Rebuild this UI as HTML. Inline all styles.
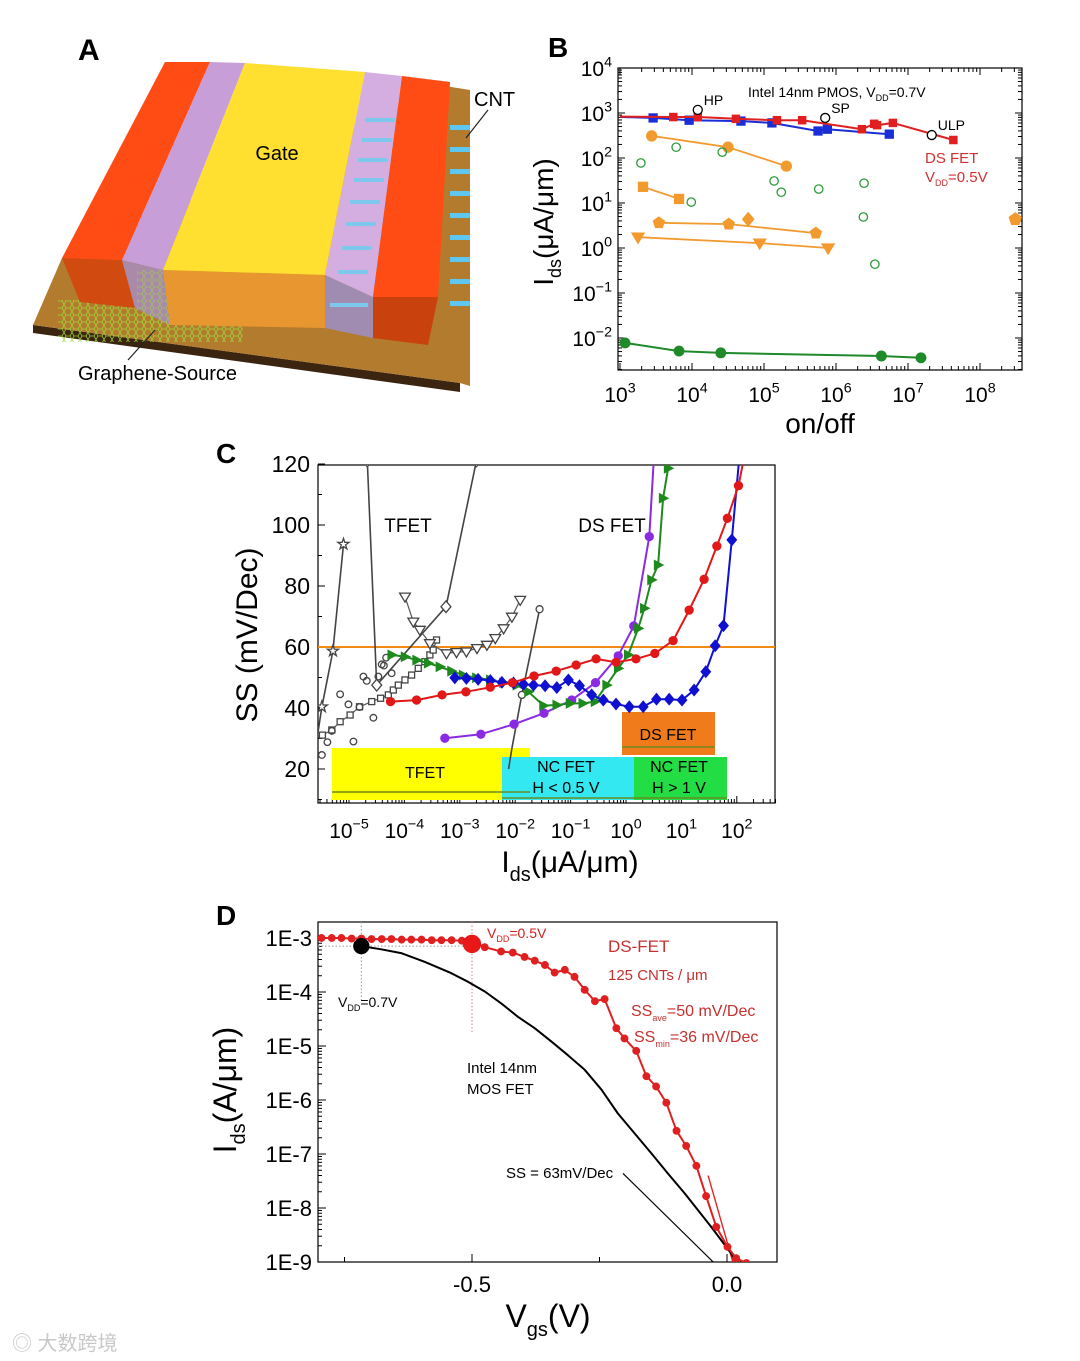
<!DOCTYPE html>
<html><head><meta charset="utf-8"><title>DS FET figure</title>
<style>
html,body{margin:0;padding:0;background:#fff;}
svg{display:block;font-family:"Liberation Sans","Noto Sans CJK SC",sans-serif;}
</style></head>
<body>
<svg id="fig" width="1080" height="1361" viewBox="0 0 1080 1361" xmlns="http://www.w3.org/2000/svg">
<defs>
<clipPath id="clipB"><rect x="618" y="68" width="404" height="302"/></clipPath>
<clipPath id="clipC"><rect x="318" y="465" width="457" height="338"/></clipPath>
<clipPath id="clipD"><rect x="318" y="922" width="459" height="340"/></clipPath>
<pattern id="hex" width="8" height="7" patternUnits="userSpaceOnUse"><path d="M0 3.5 L2 0 L6 0 L8 3.5 L6 7 L2 7 Z" fill="none" stroke="#9fdc3a" stroke-width="0.8"/></pattern>
</defs>

<!-- Panel A: device illustration -->
<g>
<text x="78" y="60" font-size="30" font-weight="bold">A</text>
<polygon points="33,325 460,383 460,392 33,333" fill="#3b2410"/>
<polygon points="33,325 62,258 445,86 470,90 470,386 460,383" fill="#b27b2d"/>
<rect x="58" y="300" width="185" height="42" fill="url(#hex)" opacity="0.9"/>
<g>
<rect x="450" y="125" width="20" height="5" fill="#5fc6ef"/><rect x="450" y="147" width="20" height="5" fill="#5fc6ef"/>
<rect x="450" y="169" width="20" height="5" fill="#5fc6ef"/><rect x="450" y="191" width="20" height="5" fill="#5fc6ef"/>
<rect x="450" y="213" width="20" height="5" fill="#5fc6ef"/><rect x="450" y="235" width="20" height="5" fill="#5fc6ef"/>
<rect x="450" y="257" width="20" height="5" fill="#5fc6ef"/><rect x="450" y="279" width="20" height="5" fill="#5fc6ef"/>
<rect x="450" y="301" width="20" height="5" fill="#5fc6ef"/>
</g>
<polygon points="62,258 122,260 135,308 80,302" fill="#d14a10"/>
<polygon points="122,260 163,270 170,325 135,308" fill="#a98aa8"/>
<rect x="137" y="270" width="34" height="55" fill="url(#hex)" opacity="0.6"/>
<polygon points="163,270 325,275 325,328 170,325" fill="#e8962f"/>
<polygon points="325,275 373,297 373,338 325,328" fill="#a08cb0"/>
<polygon points="373,297 438,297 428,345 373,338" fill="#c9410d"/>
<polygon points="165,62 210,62 122,260 62,258" fill="#ff4b14"/>
<polygon points="210,62 245,63 163,270 122,260" fill="#c89ed8"/>
<polygon points="245,63 365,72 325,275 163,270" fill="#ffe030"/>
<polygon points="365,72 402,76 373,297 325,275" fill="#d4aee0"/>
<g fill="#7ec8ee">
<rect x="365" y="118" width="30" height="4"/><rect x="362" y="138" width="30" height="4"/><rect x="358" y="158" width="30" height="4"/>
<rect x="354" y="178" width="30" height="4"/><rect x="350" y="200" width="30" height="4"/><rect x="346" y="222" width="30" height="4"/>
<rect x="342" y="246" width="30" height="4"/><rect x="338" y="270" width="30" height="4"/><rect x="330" y="303" width="38" height="4"/>
</g>
<polygon points="402,76 450,82 438,297 373,297" fill="#ff4b14"/>
<text x="277" y="160" font-size="20" text-anchor="middle">Gate</text>
<text x="474" y="106" font-size="20">CNT</text>
<line x1="488" y1="110" x2="466" y2="138" stroke="#222" stroke-width="1.2"/>
<text x="78" y="380" font-size="20">Graphene-Source</text>
<line x1="128" y1="360" x2="155" y2="330" stroke="#222" stroke-width="1.2"/>
</g>

<text x="548" y="57" font-size="28" font-weight="bold">B</text>
<text x="216" y="463" font-size="28" font-weight="bold">C</text>
<text x="216" y="925" font-size="28" font-weight="bold">D</text>

<g id="gB"></g>
<g id="gC"></g>
<g id="gD"></g>

<text x="12" y="1350" font-size="20" fill="#c8c8c8">◎ 大数跨境</text>
</svg>

<script>
// ---------- Panel B data (log10 on/off, log10 Ids) ----------
const bRedX=[3.0,3.74,4.08,4.61,5.18,5.53,6.36,6.53,6.57,6.79,7.63];
const bRedY=[2.92,2.91,2.91,2.87,2.84,2.84,2.64,2.76,2.73,2.78,2.40];
const bBlueX=[3.0,3.46,3.96,4.68,5.11,5.75,5.88,6.74];
const bBlueY=[2.91,2.89,2.84,2.82,2.78,2.60,2.64,2.53];
const bIntelX=[4.08,5.85,7.33];
const bIntelY=[3.07,2.89,2.51];
const bIntelLabels=["HP","SP","ULP"];
const bOrCircX=[3.44,4.5,5.31], bOrCircY=[2.49,2.24,1.82];
const bOrSqX=[3.32,3.82], bOrSqY=[1.36,1.09];
const bOrPentX=[3.54,4.51,5.72], bOrPentY=[0.56,0.53,0.33];
const bOrDiaX=[4.78], bOrDiaY=[0.64];
const bOrLoneX=[8.49], bOrLoneY=[0.64];
const bOrTriX=[3.25,4.94,5.89], bOrTriY=[0.24,0.11,0.0];
const bGreenOpenX=[3.29,3.78,4.42,5.14,5.24,3.99,5.76,6.39,6.38,6.54];
const bGreenOpenY=[1.89,2.24,2.13,1.49,1.24,1.02,1.31,1.44,0.69,-0.36];
const bGreenX=[3.07,3.82,4.4,6.63,7.18];
const bGreenY=[-2.11,-2.29,-2.33,-2.4,-2.44];
const bXTicks=[3,4,5,6,7,8];
const bYTicks=[4,3,2,1,0,-1,-2];

// ---------- Panel C data (log10 Ids, SS mV/dec) ----------
const cRedX=[-4.25,-3.78,-3.32,-2.89,-2.45,-2.05,-1.66,-1.26,-0.90,-0.54,-0.18,0.18,0.52,0.85,1.14,1.41,1.64,1.83,2.03,2.12];
const cRedY=[42.1,42.6,44.3,45.3,46.8,48.3,50.5,52.1,54.1,56.1,55.0,56.1,57.9,62.1,72.1,82.2,93.1,102.2,112.9,121];
const cBlueX=[-3.09,-2.88,-2.67,-2.45,-2.24,-2.03,-1.85,-1.67,-1.46,-1.25,-1.04,-0.84,-0.62,-0.41,-0.18,0.06,0.31,0.55,0.78,1.01,1.23,1.44,1.61,1.76,1.91,2.04];
const cBlueY=[49.9,49.7,49.4,49.0,48.4,48.2,47.8,47.5,47.3,46.7,49.2,47.3,44.3,42.6,41.3,40.4,40.4,42.9,42.9,42.6,45.9,51.9,60.4,67.0,95.1,121];
const cGreenX=[-4.23,-3.99,-3.78,-3.57,-3.36,-3.15,-2.94,-2.70,-2.45,-2.21,-1.97,-1.76,-1.49,-1.25,-1.01,-0.78,-0.56,-0.35,-0.14,0.04,0.22,0.33,0.46,0.58,0.67,0.76,0.79];
const cGreenY=[57.4,56.8,55.7,54.7,53.5,52.1,50.8,49.9,49.2,48.3,47.5,45.3,40.8,41.0,41.5,41.5,42.1,47.5,53.0,57.4,66.1,72.7,82.0,86.9,108.8,118.6,121];
const cPurpleX=[-3.27,-2.62,-2.02,-1.48,-0.98,-0.55,-0.14,0.14,0.42,0.50];
const cPurpleY=[30.1,31.4,34.7,38.3,42.6,48.3,57.1,66.9,96.2,121];
const cStarX=[-5.62,-5.49,-5.29,-5.10], cStarY=[25,40.4,58.7,93.7];
const cHourX=[-4.67,-4.50,-3.25,-2.70], cHourY=[121,47.5,73.2,121];
const cSqX=[-5.48,-5.31,-5.16,-4.98,-4.81,-4.59,-4.43,-4.29,-4.20,-4.11,-3.99,-3.87,-3.75,-3.63,-3.54,-3.48,-3.42];
const cSqY=[31.1,32.8,35.5,37.7,40.4,42.1,43.2,44.3,45.9,47.5,49.2,50.8,53.0,55.2,57.4,59.0,62.3];
const cTriX=[-3.99,-3.84,-3.72,-3.54,-3.24,-3.06,-2.88,-2.69,-2.51,-2.36,-2.21,-2.06,-1.91];
const cTriY=[76.5,68.3,65.6,61.2,57.9,58.3,58.5,59.6,60.7,62.9,66.1,69.9,75.4];
const cCircLineX=[-1.56,-1.88,-2.06,-2.12], cCircLineY=[72.4,44.3,26.8,20];
const cScatX=[-5.49,-5.39,-5.31,-5.16,-5.01,-4.92,-4.81,-4.74,-4.68,-4.56,-4.47,-4.41,-4.37,-4.33,-4.23];
const cScatY=[24.6,28.8,32.5,44.5,41.2,29.0,40.3,50.3,48.9,36.8,50.3,54.3,53.9,56.5,51.4];
const cRefSS=[60];
const cXTicks=[-5,-4,-3,-2,-1,0,1,2];
const cYTicks=[20,40,60,80,100,120];

// ---------- Panel D data (Vgs in V, log10 Ids) ----------
const dRedV=[-0.795,-0.775,-0.756,-0.736,-0.717,-0.697,-0.677,-0.658,-0.638,-0.619,-0.599,-0.579,-0.560,-0.540,-0.520,-0.500,-0.475,-0.443,-0.420,-0.397,-0.377,-0.357,-0.338,-0.318,-0.299,-0.279,-0.259,-0.240,-0.217,-0.201,-0.178,-0.158,-0.139,-0.119,-0.099,-0.080,-0.060,-0.041,-0.021,0.001,0.018,0.038];
const dRedI=[-3.0,-3.0,-3.0,-3.01,-3.01,-3.02,-3.02,-3.02,-3.03,-3.03,-3.03,-3.04,-3.04,-3.04,-3.05,-3.06,-3.17,-3.25,-3.27,-3.35,-3.42,-3.50,-3.64,-3.59,-3.72,-3.96,-4.17,-4.13,-4.67,-4.86,-5.09,-5.56,-5.75,-6.05,-6.57,-6.85,-7.22,-7.78,-8.35,-8.72,-8.93,-9.02];
const dMosV=[-0.717,-0.678,-0.639,-0.593,-0.541,-0.508,-0.475,-0.443,-0.410,-0.377,-0.344,-0.312,-0.279,-0.246,-0.214,-0.181,-0.148,-0.116,-0.083,-0.031,0.008,0.02];
const dMosI=[-3.15,-3.21,-3.28,-3.44,-3.65,-3.81,-3.99,-4.21,-4.46,-4.67,-4.92,-5.17,-5.44,-5.81,-6.25,-6.62,-6.99,-7.36,-7.73,-8.35,-8.84,-9.05];
const dVddV=[-0.717,-0.5];
const dVddI=[-3.15,-3.11];
const dSlopeMosV=[-0.204,-0.027], dSlopeMosI=[-7.36,-9.0];
const dSlopeRedV=[-0.037,0.013], dSlopeRedI=[-7.4,-9.05];
const dXTicks=[-0.5,0.0];
const dXTickLabels=["-0.5","0.0"];
const dYTicks=[-3,-4,-5,-6,-7,-8,-9];
const dYTickLabels=["1E-3","1E-4","1E-5","1E-6","1E-7","1E-8","1E-9"];

// ---------- axis functions ----------
const bx=v=>620+(v-3)*72, by=v=>113-(v-3)*45;
const cx=v=>626+v*55.4, cy=v=>647-(v-60)*3.05;
const dx=v=>727+v*510, dy=v=>938-(v+3)*54;

const NS='http://www.w3.org/2000/svg';
function mk(tag,attrs,parent,name){
  const e=document.createElementNS(NS,tag);
  for(const k in attrs) e.setAttribute(k,attrs[k]);
  
  
  parent.appendChild(e); return e;
}
function txt(parent,x,y,s,size,anchor,fill,name){
  const t=mk('text',{x:x,y:y,'font-size':size,'text-anchor':anchor||'start',fill:fill||'#000'},parent,name);
  t.textContent=s; return t;
}
function powLabel(parent,x,y,exp,size,anchor,name){
  const t=mk('text',{x:x,y:y,'font-size':size,'text-anchor':anchor},parent,name);
  const a=document.createElementNS(NS,'tspan'); a.textContent='10'; t.appendChild(a);
  const b=document.createElementNS(NS,'tspan'); b.setAttribute('dy',-size*0.45); b.setAttribute('font-size',size*0.68); b.textContent=String(exp).replace('-','\u2212'); t.appendChild(b);
  return t;
}
function line(parent,X,Y,fx,fy,color,w,name,dash){
  let d=''; for(let i=0;i<X.length;i++) d+=(i?'L':'M')+fx(X[i]).toFixed(1)+' '+fy(Y[i]).toFixed(1);
  const a={d:d,fill:'none',stroke:color,'stroke-width':w||1.8,'stroke-linejoin':'round'};
  if(dash) a['stroke-dasharray']=dash;
  return mk('path',a,parent,name);
}
function marker(parent,shape,x,y,r,fill,stroke,name){
  const st={fill:fill,stroke:stroke||fill,'stroke-width':1.3};
  let p;
  if(shape==='circle'){ p=mk('circle',Object.assign({cx:x,cy:y,r:r},st),parent,name); return p; }
  if(shape==='square'){ p=mk('rect',Object.assign({x:x-r,y:y-r,width:2*r,height:2*r},st),parent,name); return p; }
  let pts=[];
  if(shape==='diamond') pts=[[0,-1.3],[1.1,0],[0,1.3],[-1.1,0]];
  if(shape==='tridown') pts=[[-1.2,-0.8],[1.2,-0.8],[0,1.2]];
  if(shape==='triup') pts=[[-1.2,0.8],[1.2,0.8],[0,-1.2]];
  if(shape==='triright') pts=[[-0.9,-1.1],[1.2,0],[-0.9,1.1]];
  if(shape==='pent'){ for(let i=0;i<5;i++){const a=-Math.PI/2+i*2*Math.PI/5; pts.push([1.15*Math.cos(a),1.15*Math.sin(a)]);} }
  if(shape==='star'){ for(let i=0;i<10;i++){const a=-Math.PI/2+i*Math.PI/5, rr=i%2?0.5:1.3; pts.push([rr*Math.cos(a),rr*Math.sin(a)]);} }
  p=mk('polygon',Object.assign({points:pts.map(q=>(x+q[0]*r).toFixed(1)+','+(y+q[1]*r).toFixed(1)).join(' ')},st),parent,name);
  return p;
}
function markers(parent,shape,X,Y,fx,fy,r,fill,stroke,name){
  for(let i=0;i<X.length;i++) marker(parent,shape,fx(X[i]),fy(Y[i]),r,fill,stroke,name);
}
function logTicks(parent,min,max,f,horizontal,edge,inward,name){
  for(let d=Math.floor(min);d<=max;d++){
    for(let m=1;m<10;m++){
      const v=d+Math.log10(m); if(v<min||v>max) continue;
      const len=m===1?7:4, p=f(v);
      const a=horizontal?{x1:p,x2:p,y1:edge,y2:edge+inward*len}:{y1:p,y2:p,x1:edge,x2:edge+inward*len};
      mk('line',Object.assign(a,{stroke:'#000','stroke-width':1}),parent,name);
    }
  }
}

// ================= Panel B =================
(function(){
  const g=document.getElementById('gB');
  mk('rect',{x:618,y:68,width:404,height:302,fill:'none',stroke:'#000','stroke-width':1.2},g,'plot-frame-b');
  logTicks(g,-2.73,4,by,false,618,1,'y-tick-b');
  logTicks(g,-2.73,4,by,false,1022,-1,'y-tick-b-right');
  logTicks(g,2.97,8.6,bx,true,370,-1,'x-tick-b');
  logTicks(g,2.97,8.6,bx,true,68,1,'x-tick-b-top');
  bYTicks.forEach(v=>powLabel(g,612,by(v)+8,v,21,'end','y-tick-label-b'));
  bXTicks.forEach(v=>powLabel(g,bx(v),402,v,21,'middle','x-tick-label-b'));
  txt(g,820,433,'on/off',28,'middle','#000','x-axis-title-b');
  const yt=mk('text',{x:0,y:0,'font-size':28,'text-anchor':'middle',transform:'translate(553,222) rotate(-90)'},g,'y-axis-title-b');
  yt.innerHTML='I<tspan font-size="18" dy="8">ds</tspan><tspan dy="-8">(μA/μm)</tspan>';
  const p=mk('g',{'clip-path':'url(#clipB)'},g,'plot-area-b');
  line(p,bOrCircX,bOrCircY,bx,by,'#f39a2e',1.8,'orange-circle-line');
  line(p,bOrSqX,bOrSqY,bx,by,'#f39a2e',1.8,'orange-square-line');
  line(p,bOrPentX,bOrPentY,bx,by,'#f39a2e',1.8,'orange-pentagon-line');
  line(p,bOrTriX,bOrTriY,bx,by,'#f39a2e',1.8,'orange-triangle-line');
  markers(p,'circle',bOrCircX,bOrCircY,bx,by,5,'#f39a2e',null,'orange-circle-point');
  markers(p,'square',bOrSqX,bOrSqY,bx,by,4.5,'#f39a2e',null,'orange-square-point');
  markers(p,'pent',bOrPentX,bOrPentY,bx,by,5,'#f39a2e',null,'orange-pentagon-point');
  markers(p,'diamond',bOrDiaX,bOrDiaY,bx,by,5,'#f39a2e',null,'orange-diamond-point');
  markers(p,'pent',bOrLoneX,bOrLoneY,bx,by,5.5,'#f39a2e',null,'orange-lone-point');
  markers(p,'tridown',bOrTriX,bOrTriY,bx,by,5,'#f39a2e',null,'orange-triangle-point');
  markers(p,'circle',bGreenOpenX,bGreenOpenY,bx,by,4.2,'none','#2e9a3a','green-open-point');
  line(p,bGreenX,bGreenY,bx,by,'#1e8a2a',2,'green-line');
  markers(p,'circle',bGreenX,bGreenY,bx,by,4.8,'#1e8a2a',null,'green-point');
  line(p,bBlueX,bBlueY,bx,by,'#1a2ed8',2,'intel-blue-line');
  markers(p,'square',bBlueX.slice(1),bBlueY.slice(1),bx,by,4,'#1a2ed8',null,'intel-blue-point');
  line(p,bRedX,bRedY,bx,by,'#e02020',2,'ds-fet-red-line');
  markers(p,'square',bRedX.slice(1),bRedY.slice(1),bx,by,3.6,'#e02020',null,'ds-fet-red-point');
  markers(p,'circle',bIntelX,bIntelY,bx,by,4.5,'#fff','#000','intel-node-point');
  bIntelLabels.forEach((s,i)=>txt(g,bx(bIntelX[i])+6,by(bIntelY[i])-5,s,14,'start','#000','intel-node-label'));
  const t1=mk('text',{x:748,y:97,'font-size':14},g,'intel-annotation-b');
  t1.innerHTML='Intel 14nm PMOS, V<tspan font-size="9" dy="4">DD</tspan><tspan dy="-4">=0.7V</tspan>';
  txt(g,925,163,'DS FET',15,'start','#d03030','ds-fet-annotation-b');
  const t2=mk('text',{x:925,y:182,'font-size':15,fill:'#d03030'},g,'vdd-annotation-b');
  t2.innerHTML='V<tspan font-size="9" dy="4">DD</tspan><tspan dy="-4">=0.5V</tspan>';
})();

// ================= Panel C =================
(function(){
  const g=document.getElementById('gC');
  mk('rect',{x:318,y:465,width:457,height:338,fill:'none',stroke:'#000','stroke-width':1.2},g,'plot-frame-c');
  cYTicks.forEach(v=>{
    mk('line',{x1:318,x2:325,y1:cy(v),y2:cy(v),stroke:'#000'},g,'y-tick-c');
    if(v<120) mk('line',{x1:318,x2:322,y1:cy(v+10),y2:cy(v+10),stroke:'#000'},g,'y-minor-tick-c');
    txt(g,310,cy(v)+8,String(v),23,'end','#000','y-tick-label-c');
  });
  mk('line',{x1:318,x2:322,y1:cy(10),y2:cy(10),stroke:'#000'},g,'y-minor-tick-c');
  logTicks(g,-5.58,2.7,cx,true,803,-1,'x-tick-c');
  cXTicks.forEach(v=>powLabel(g,cx(v),838,v,21,'middle','x-tick-label-c'));
  const xt=mk('text',{x:570,y:872,'font-size':30,'text-anchor':'middle'},g,'x-axis-title-c');
  xt.innerHTML='I<tspan font-size="20" dy="9">ds</tspan><tspan dy="-9">(μA/μm)</tspan>';
  txt(g,0,0,'SS (mV/Dec)',30,'middle','#000','y-axis-title-c').setAttribute('transform','translate(257,635) rotate(-90)');
  mk('rect',{x:332,y:748,width:198,height:52,fill:'#ffff00'},g,'tfet-region');
  mk('rect',{x:502,y:757,width:132,height:43,fill:'#33e8f0'},g,'ncfet-low-region');
  mk('rect',{x:634,y:757,width:93,height:43,fill:'#22dd44'},g,'ncfet-high-region');
  mk('rect',{x:622,y:712,width:93,height:43,fill:'#f07b1a'},g,'dsfet-region');
  txt(g,425,778,'TFET',16,'middle','#000','tfet-box-label');
  txt(g,566,772,'NC FET',16,'middle','#000','ncfet-low-label');
  txt(g,566,793,'H < 0.5 V',16,'middle','#000','ncfet-low-sub-label');
  txt(g,679,772,'NC FET',16,'middle','#000','ncfet-high-label');
  txt(g,679,793,'H > 1 V',16,'middle','#000','ncfet-high-sub-label');
  txt(g,668,740,'DS FET',16,'middle','#000','dsfet-box-label');
  [[332,530,792],[502,634,798],[634,727,798],[622,715,747]].forEach(a=>{
    mk('line',{x1:a[0],x2:a[1],y1:a[2],y2:a[2],stroke:'#6a8a20','stroke-width':1.5},g,'region-range-arrow');
  });
  const p=mk('g',{'clip-path':'url(#clipC)'},g,'plot-area-c');
  line(p,[-5.7,2.8],[cRefSS[0],cRefSS[0]],cx,cy,'#f08a10',2,'ss-60-reference-line');
  line(p,cStarX,cStarY,cx,cy,'#444',1.6,'tfet-star-line');
  markers(p,'star',cStarX.slice(1),cStarY.slice(1),cx,cy,4.5,'#fff','#444','tfet-star-point');
  line(p,cHourX,cHourY,cx,cy,'#444',1.6,'tfet-diamond-line');
  markers(p,'diamond',cHourX,cHourY,cx,cy,4.5,'#fff','#444','tfet-diamond-point');
  line(p,cSqX,cSqY,cx,cy,'#555',1.2,'tfet-square-line');
  markers(p,'square',cSqX,cSqY,cx,cy,3,'#fff','#444','tfet-square-point');
  line(p,cTriX,cTriY,cx,cy,'#555',1.2,'tfet-triangle-line');
  markers(p,'tridown',cTriX,cTriY,cx,cy,4.5,'#fff','#444','tfet-triangle-point');
  line(p,cCircLineX,cCircLineY,cx,cy,'#444',1.6,'tfet-circle-line');
  markers(p,'circle',cCircLineX.slice(0,2),cCircLineY.slice(0,2),cx,cy,3.5,'#fff','#444','tfet-circle-line-point');
  markers(p,'circle',cScatX,cScatY,cx,cy,3.3,'none','#444','tfet-scatter-point');
  line(p,cPurpleX,cPurpleY,cx,cy,'#8a2be2',2,'purple-line');
  markers(p,'circle',cPurpleX.slice(0,-1),cPurpleY.slice(0,-1),cx,cy,4,'#8a2be2',null,'purple-point');
  line(p,cGreenX,cGreenY,cx,cy,'#1e8a1e',2,'green-line-c');
  markers(p,'triright',cGreenX.slice(0,-1),cGreenY.slice(0,-1),cx,cy,4,'#1e8a1e',null,'green-point-c');
  line(p,cBlueX,cBlueY,cx,cy,'#1010d0',2,'blue-line-c');
  markers(p,'diamond',cBlueX.slice(0,-1),cBlueY.slice(0,-1),cx,cy,4.2,'#1010d0',null,'blue-point-c');
  line(p,cRedX,cRedY,cx,cy,'#e01818',2,'red-line-c');
  markers(p,'circle',cRedX.slice(0,-1),cRedY.slice(0,-1),cx,cy,4,'#e01818',null,'red-point-c');
  txt(g,408,532,'TFET',19,'middle','#000','tfet-annotation');
  txt(g,612,532,'DS FET',19,'middle','#000','dsfet-annotation');
})();

// ================= Panel D =================
(function(){
  const g=document.getElementById('gD');
  mk('rect',{x:318,y:922,width:459,height:340,fill:'none',stroke:'#000','stroke-width':1.2},g,'plot-frame-d');
  dYTicks.forEach((v,i)=>{
    mk('line',{x1:318,x2:326,y1:dy(v),y2:dy(v),stroke:'#000'},g,'y-tick-d');
    if(v>-9) for(let m=2;m<10;m++){const yy=dy(v-1+Math.log10(m)); mk('line',{x1:318,x2:322,y1:yy,y2:yy,stroke:'#000'},g,'y-minor-tick-d');}
    txt(g,312,dy(v)+8,dYTickLabels[i],22,'end','#000','y-tick-label-d');
  });
  [-0.75,-0.5,-0.25,0].forEach(v=>mk('line',{x1:dx(v),x2:dx(v),y1:1262,y2:v===-0.75||v===-0.25?1257:1254,stroke:'#000'},g,'x-tick-d'));
  dXTicks.forEach((v,i)=>txt(g,dx(v),1292,dXTickLabels[i],22,'middle','#000','x-tick-label-d'));
  const xt=mk('text',{x:548,y:1327,'font-size':32,'text-anchor':'middle'},g,'x-axis-title-d');
  xt.innerHTML='V<tspan font-size="20" dy="9">gs</tspan><tspan dy="-9">(V)</tspan>';
  const yt=mk('text',{x:0,y:0,'font-size':32,'text-anchor':'middle',transform:'translate(236,1090) rotate(-90)'},g,'y-axis-title-d');
  yt.innerHTML='I<tspan font-size="20" dy="9">ds</tspan><tspan dy="-9">(A/μm)</tspan>';
  const p=mk('g',{'clip-path':'url(#clipD)'},g,'plot-area-d');
  mk('line',{x1:318,x2:dx(dVddV[1]),y1:dy(dVddI[0]),y2:dy(dVddI[0]),stroke:'#999','stroke-dasharray':'1.5 2'},p,'vdd-guide-horizontal');
  mk('line',{x1:dx(dVddV[0]),x2:dx(dVddV[0]),y1:922,y2:1000,stroke:'#999','stroke-dasharray':'1.5 2'},p,'vdd07-guide');
  mk('line',{x1:dx(dVddV[1]),x2:dx(dVddV[1]),y1:922,y2:1033,stroke:'#c88','stroke-dasharray':'1.5 2'},p,'vdd05-guide');
  line(p,dSlopeMosV,dSlopeMosI,dx,dy,'#000',1.2,'ss-63-slope-line');
  line(p,dSlopeRedV,dSlopeRedI,dx,dy,'#e02828',1.4,'ss-min-slope-line');
  line(p,dMosV,dMosI,dx,dy,'#000',2,'intel-mosfet-curve');
  line(p,dRedV,dRedI,dx,dy,'#e02020',2,'ds-fet-curve');
  markers(p,'circle',dRedV,dRedI,dx,dy,3.3,'#e02020',null,'ds-fet-point');
  marker(p,'circle',dx(dVddV[0]),dy(dVddI[0]),7.5,'#000',null,'vdd07-point');
  marker(p,'circle',dx(dVddV[1]),dy(dVddI[1]),8.5,'#e81818',null,'vdd05-point');
  const a1=mk('text',{x:338,y:1007,'font-size':14},g,'vdd07-label');
  a1.innerHTML='V<tspan font-size="9" dy="4">DD</tspan><tspan dy="-4">=0.7V</tspan>';
  const a2=mk('text',{x:487,y:938,'font-size':14,fill:'#d02020'},g,'vdd05-label');
  a2.innerHTML='V<tspan font-size="9" dy="4">DD</tspan><tspan dy="-4">=0.5V</tspan>';
  txt(g,608,952,'DS-FET',17,'start','#c83030','ds-fet-label');
  txt(g,608,980,'125 CNTs / μm',15,'start','#c83030','cnt-density-label');
  const a3=mk('text',{x:631,y:1016,'font-size':16,fill:'#c83030'},g,'ss-ave-label');
  a3.innerHTML='SS<tspan font-size="9" dy="5">ave</tspan><tspan dy="-5">=50 mV/Dec</tspan>';
  const a4=mk('text',{x:634,y:1042,'font-size':16,fill:'#c83030'},g,'ss-min-label');
  a4.innerHTML='SS<tspan font-size="9" dy="5">min</tspan><tspan dy="-5">=36 mV/Dec</tspan>';
  txt(g,467,1073,'Intel 14nm',15,'start','#000','intel-label-1');
  txt(g,467,1094,'MOS FET',15,'start','#000','intel-label-2');
  txt(g,506,1178,'SS = 63mV/Dec',15,'start','#000','ss-63-label');
})();
</script>
</body></html>
